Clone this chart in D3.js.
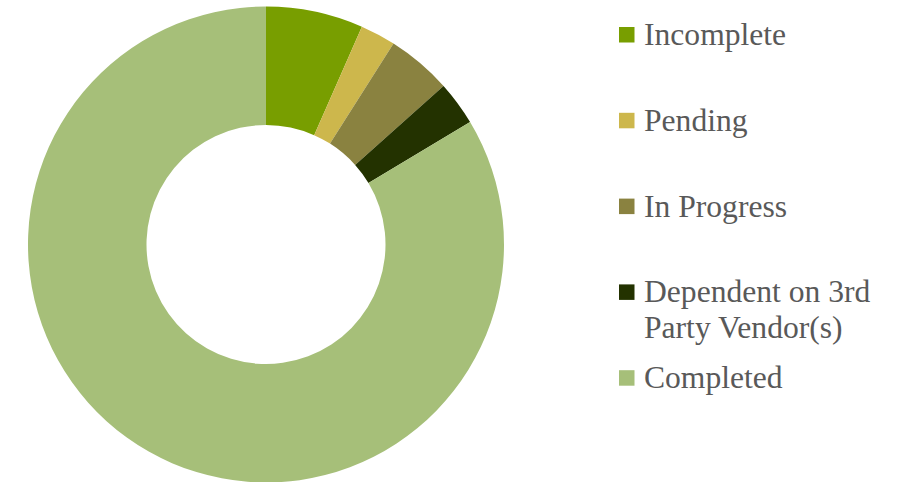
<!DOCTYPE html>
<html>
  <head>
    <meta charset="utf-8">
    <title>Status</title>
    <script src="https://d3js.org/d3.v7.min.js"></script>
    <style>
      body { margin: 0; background: #fff; }
    </style>
  </head>
  <body>
    <script>
      // data (share of items, %)
      const categories = ["Incomplete", "Pending", "In Progress", "Dependent on 3rd Party Vendor(s)", "Completed"];
      const values = [6.6, 2.4, 4.4, 3.0, 83.6];
      const colours = ["#789e00", "#cdb74c", "#8a8240", "#233200", "#a6bf79"];

      const width = 900;
      const height = 482;
      const cx = 266, cy = 244.5;
      const outer = 238, inner = 119.5;

      const svg = d3.select("body")
        .append("svg")
          .attr("width", width)
          .attr("height", height);

      const colour = d3.scaleOrdinal().domain(categories).range(colours);

      const pie = d3.pie().sort(null).value(function(d, i) { return values[i]; });
      const arc = d3.arc().innerRadius(inner).outerRadius(outer);

      svg.append("g")
        .attr("transform", "translate(" + cx + "," + cy + ")")
        .selectAll("path")
        .data(pie(categories))
        .enter().append("path")
          .attr("d", arc)
          .attr("fill", function(d) { return colour(d.data); });

      // legend
      const legendY = d3.scalePoint().domain(categories).range([45, 388.2]);
      const textX = 644, maxWidth = 245;

      const item = svg.append("g")
        .selectAll("g")
        .data(categories)
        .enter().append("g");

      item.append("rect")
        .attr("x", 619)
        .attr("y", function(d) { return legendY(d) - 18; })
        .attr("width", 15.5)
        .attr("height", 15.5)
        .attr("fill", function(d) { return colour(d); });

      item.append("text")
        .attr("x", textX)
        .attr("y", function(d) { return legendY(d); })
        .attr("font-family", "'Liberation Serif', 'Times New Roman', serif")
        .attr("font-size", "31.6px")
        .attr("fill", "#595959")
        .each(function(d) {
          // simple word wrap
          const text = d3.select(this);
          const words = d.split(" ");
          let line = [];
          let tspan = text.append("tspan").attr("x", textX);
          let lineNo = 0;
          words.forEach(function(w) {
            line.push(w);
            tspan.text(line.join(" "));
            if (tspan.node().getComputedTextLength() > maxWidth && line.length > 1) {
              line.pop();
              tspan.text(line.join(" "));
              line = [w];
              lineNo++;
              tspan = text.append("tspan")
                .attr("x", textX)
                .attr("dy", "35.5px")
                .text(w);
            }
          });
        });
    </script>
  </body>
</html>
